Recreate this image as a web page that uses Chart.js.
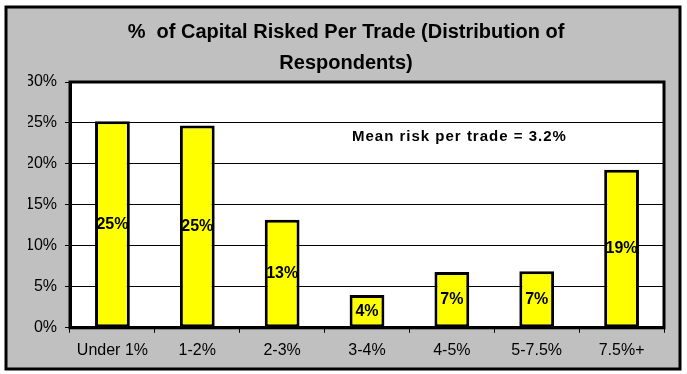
<!DOCTYPE html>
<html>
<head>
<meta charset="utf-8">
<script src="https://cdn.jsdelivr.net/npm/chart.js@4"></script>
<style>
  html,body{margin:0;padding:0;background:#fff;}
  #wrap{width:687px;height:374px;}
</style>
</head>
<body>
<div id="wrap"><canvas id="chart" width="687" height="374"></canvas></div>
<script>
const categories = ['Under 1%', '1-2%', '2-3%', '3-4%', '4-5%', '5-7.5%', '7.5%+'];
const shares = [25.2, 24.7, 13.2, 4.0, 6.8, 6.9, 19.3];
const titleLines = ['%  of Capital Risked Per Trade (Distribution of', 'Respondents)'];
const note = 'Mean risk per trade = 3.2%';

const FONT = '"Liberation Sans", Arial, sans-serif';

// gray frame + white plot area
const frame = {
  id: 'frame',
  beforeDraw(chart){
    const c = chart.ctx, a = chart.chartArea;
    c.save();
    c.fillStyle = '#fff';
    c.fillRect(0, 0, chart.width, chart.height);
    c.fillStyle = '#c0c0c0';
    c.fillRect(6, 7, 674, 362);
    c.lineWidth = 3;
    c.strokeStyle = '#000';
    c.strokeRect(6, 7, 674, 362);
    c.fillStyle = '#fff';
    c.fillRect(a.left, a.top, a.right - a.left, a.bottom - a.top);
    c.restore();
  },
  afterDatasetsDraw(chart){
    const c = chart.ctx, a = chart.chartArea;
    c.save();
    c.lineWidth = 3;
    c.strokeStyle = '#000';
    c.strokeRect(a.left, a.top, a.right - a.left, a.bottom - a.top);
    // value labels in the middle of each bar
    c.fillStyle = '#000';
    c.font = 'bold 16px ' + FONT;
    c.textAlign = 'center';
    c.textBaseline = 'middle';
    chart.getDatasetMeta(0).data.forEach((bar, i) => {
      c.fillText(Math.round(shares[i]) + '%', bar.x, (bar.y + bar.base) / 2);
    });
    // note
    c.font = 'bold 15px ' + FONT;
    c.letterSpacing = '1px';
    c.textAlign = 'left';
    c.fillText(note, 352, 137);
    c.restore();
  }
};

new Chart(document.getElementById('chart'), {
  type: 'bar',
  data: {
    labels: categories,
    datasets: [{
      data: shares,
      backgroundColor: '#ffff00',
      borderColor: '#000',
      borderWidth: 3,
      borderSkipped: false,
      barPercentage: 0.41,
      categoryPercentage: 1
    }]
  },
  options: {
    responsive: false,
    animation: false,
    layout: { padding: { left: 28, right: 23, top: 0, bottom: 6 } },
    plugins: {
      legend: { display: false },
      tooltip: { enabled: false },
      title: {
        display: true,
        text: titleLines,
        color: '#000',
        font: { family: FONT, size: 20, weight: 'bold', lineHeight: 1.55 },
        padding: { top: 17, bottom: 3 }
      }
    },
    scales: {
      y: {
        min: 0, max: 30,
        afterFit(s){ s.width = 42; },
        ticks: { stepSize: 5, callback: v => v + '%', color: '#000', padding: 8,
                 font: { family: FONT, size: 16 } },
        grid: { color: '#000', lineWidth: 1, tickLength: 5 },
        border: { color: '#000', width: 3 }
      },
      x: {
        ticks: { color: '#000', padding: 8, font: { family: FONT, size: 16 } },
        grid: { drawOnChartArea: false, color: '#000', lineWidth: 1, tickLength: 5 },
        border: { color: '#000', width: 3 }
      }
    }
  },
  plugins: [frame]
});
</script>
</body>
</html>
